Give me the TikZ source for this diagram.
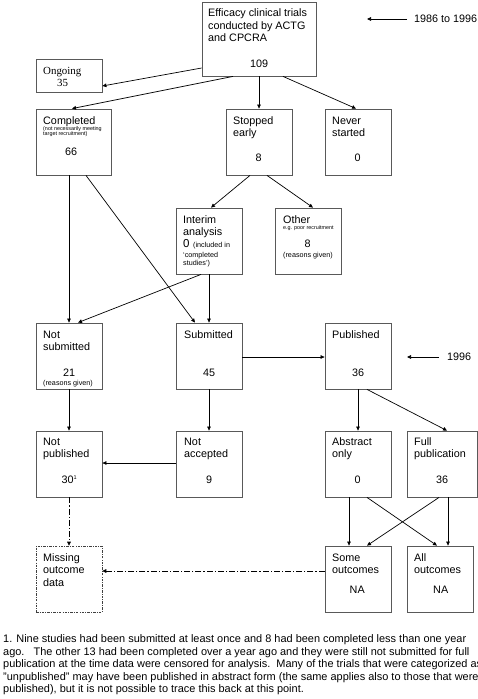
\documentclass[tikz,border=0pt]{standalone}
\usepackage{fontspec}
\setmainfont{Liberation Sans}
\newfontfamily\tnr{Liberation Serif}
\usetikzlibrary{arrows.meta}
\tikzset{
  box/.style={draw=black!65, line width=0.8pt, inner sep=0pt, fill=none},
  txt/.style={inner sep=0pt, anchor=base west, font=\fontsize{10.8}{12.5}\selectfont},
  foot/.style={inner sep=0pt, anchor=base west, font=\fontsize{10.95}{12.5}\selectfont},
  tiny/.style={inner sep=0pt, anchor=base west, font=\fontsize{5.4}{6}\selectfont},
  smalltxt/.style={inner sep=0pt, anchor=base west, font=\fontsize{7.2}{8.5}\selectfont},
  arr/.style={draw=black, line width=0.7pt, -{Triangle[length=4pt,width=3.6pt]}},
  dashdot/.style={dash pattern=on 6pt off 2pt on 1.2pt off 2pt},
}
\begin{document}
\begin{tikzpicture}[x=1pt,y=-1pt]
\useasboundingbox (0,0) rectangle (478,699);
% boxes
\node[box, minimum width=114pt, minimum height=74pt] (top) at (259,39) {};
\node[box, minimum width=66pt, minimum height=33pt] (ong) at (69,75.5) {};
\node[box, minimum width=75pt, minimum height=66pt] (comp) at (73.5,142) {};
\node[box, minimum width=66pt, minimum height=66pt] (stop) at (259,142) {};
\node[box, minimum width=66pt, minimum height=66pt] (never) at (358,142) {};
\node[box, minimum width=66pt, minimum height=66pt] (inter) at (209,241) {};
\node[box, minimum width=66pt, minimum height=66pt] (other) at (308,241) {};
\node[box, minimum width=66pt, minimum height=66pt] (notsub) at (69,356) {};
\node[box, minimum width=66pt, minimum height=66pt] (sub) at (209,356) {};
\node[box, minimum width=66pt, minimum height=66pt] (pub) at (358,356) {};
\node[box, minimum width=66pt, minimum height=66pt] (notpub) at (69,464) {};
\node[box, minimum width=66pt, minimum height=66pt] (notacc) at (209,464) {};
\node[box, minimum width=66pt, minimum height=66pt] (abs) at (358,464) {};
\node[box, minimum width=70pt, minimum height=66pt] (full) at (442,464) {};
\node[box, draw=black!75, line width=0.6pt, dash pattern=on 2.5pt off 1.2pt on 0.8pt off 1.2pt, minimum width=66pt, minimum height=66pt] (miss) at (69,579) {};
\node[box, minimum width=66pt, minimum height=66pt] (some) at (358,579) {};
\node[box, minimum width=66pt, minimum height=66pt] (all) at (440,579) {};

% texts
\node[txt] (t1a) at (208,16) {Efficacy clinical trials};
\node[txt] (t1b) at (208,29) {conducted by ACTG};
\node[txt] (t1c) at (208,41.5) {and CPCRA};
\node[txt] (t1d) at (250,67) {109};
\node[txt, font=\tnr\fontsize{10.9}{12}\selectfont] (o1) at (43,74.5) {Ongoing};
\node[txt, font=\tnr\fontsize{10.9}{12}\selectfont] (o2) at (57,86) {35};
\node[txt] (c1) at (43,124) {Completed};
\node[tiny] (c2) at (43,130) {(not necessarily meeting};
\node[tiny] (c3) at (43,135.5) {target recruitment)};
\node[txt] (c4) at (65,155) {66};
\node[txt] (s1) at (233,124) {Stopped};
\node[txt] (s2) at (233,136.5) {early};
\node[txt] (s3) at (255.5,161) {8};
\node[txt] (n1) at (332,124) {Never};
\node[txt] (n2) at (332,136.5) {started};
\node[txt] (n3) at (354.5,161) {0};
\node[txt] (i1) at (183,223) {Interim};
\node[txt] (i2) at (183,235.5) {analysis};
\node[txt, font=\fontsize{11.5}{13}\selectfont] (i3) at (183,247.5) {0};
\node[smalltxt] (i4) at (193,247) {(included in};
\node[smalltxt] (i5) at (183,257) {`completed};
\node[smalltxt] (i6) at (183,265.5) {studies')};
\node[txt] (ot1) at (283,223) {Other};
\node[tiny] (ot2) at (283,229.5) {e.g. poor recruitment};
\node[txt] (ot3) at (304.5,247.5) {8};
\node[smalltxt] (ot4) at (283,257) {(reasons given)};
\node[txt] (ns1) at (43,338) {Not};
\node[txt] (ns2) at (43,350.5) {submitted};
\node[txt] (ns3) at (63,376) {21};
\node[smalltxt] (ns4) at (43,385) {(reasons given)};
\node[txt] (sb1) at (184,338) {Submitted};
\node[txt] (sb2) at (203,376) {45};
\node[txt] (p1) at (332,338) {Published};
\node[txt] (p2) at (352,376) {36};
\node[txt] (np1) at (43,445) {Not};
\node[txt] (np2) at (43,457.5) {published};
\node[txt] (np3) at (61.5,483) {30\raisebox{3.5pt}{\fontsize{5.5}{6}\selectfont 1}};
\node[txt] (na1) at (184,445) {Not};
\node[txt] (na2) at (184,457.5) {accepted};
\node[txt] (na3) at (206,483) {9};
\node[txt] (ab1) at (332,445) {Abstract};
\node[txt] (ab2) at (332,457.5) {only};
\node[txt] (ab3) at (354.5,483) {0};
\node[txt] (fp1) at (414,445) {Full};
\node[txt] (fp2) at (414,457.5) {publication};
\node[txt] (fp3) at (436,483) {36};
\node[txt] (m1) at (43,561) {Missing};
\node[txt] (m2) at (43,573.5) {outcome};
\node[txt] (m3) at (43,586) {data};
\node[txt] (so1) at (332,561) {Some};
\node[txt] (so2) at (332,573.5) {outcomes};
\node[txt] (so3) at (349.5,593.5) {NA};
\node[txt] (al1) at (414,561) {All};
\node[txt] (al2) at (414,573.5) {outcomes};
\node[txt] (al3) at (433,593.5) {NA};

% side labels
\node[txt, anchor=west] (yr1) at (414,19) {1986 to 1996};
\coordinate (a1) at (367,19);
\node[txt, anchor=west] (yr2) at (447,357) {1996};
\coordinate (a2) at (407,357);
\draw[arr] ([xshift=-7pt]yr1.west) -- (a1);
\draw[arr] ([xshift=-8pt]yr2.west) -- (a2);

% connectors
\draw[arr] ([yshift=-29pt]top.west) -- ([yshift=-10.5pt]ong.east);
\draw[arr] ([xshift=-26pt]top.south) -- ([xshift=-1.5pt]comp.north);
\draw[arr] (top.south) -- (stop.north);
\draw[arr] ([xshift=24pt]top.south) -- ([xshift=-2pt]never.north);
\draw[arr] ([xshift=-9pt]stop.south) -- ([xshift=2pt]inter.north);
\draw[arr] ([xshift=8pt]stop.south) -- ([xshift=5pt]other.north);
\draw[arr] ([xshift=-4.5pt]comp.south) -- (notsub.north);
\draw[arr] ([xshift=12.5pt]comp.south) -- ([xshift=-14pt]sub.north);
\draw[arr] ([xshift=-8pt]inter.south) -- ([xshift=9pt]notsub.north);
\draw[arr] (inter.south) -- (sub.north);
\draw[arr] ([yshift=-1pt]sub.east) -- ([yshift=-1pt]pub.west);
\draw[arr] (notsub.south) -- (notpub.north);
\draw[arr] (sub.south) -- (notacc.north);
\draw[arr] (pub.south) -- (abs.north);
\draw[arr] ([xshift=9pt]pub.south) -- ([xshift=5pt]full.north);
\draw[arr] ([yshift=1pt]notacc.west) -- ([yshift=1pt]notpub.east);
\draw[arr, dashdot] (notpub.south) -- (miss.north);
\draw[arr, dashdot] ([yshift=8pt]some.west) -- ([yshift=8pt]miss.east);
\draw[arr] ([xshift=-9pt]abs.south) -- ([xshift=-9pt]some.north);
\draw[arr] ([xshift=9pt]abs.south) -- ([xshift=-3pt]all.north);
\draw[arr] ([xshift=-3pt]full.south) -- ([xshift=9pt]some.north);
\draw[arr] ([xshift=6pt]full.south) -- ([xshift=8pt]all.north);

% footnote
\node[foot] (f1) at (3,642.5) {1. Nine studies had been submitted at least once and 8 had been completed less than one year};
\node[foot] (f2) at (3,655) {ago.\ \ \ The other 13 had been completed over a year ago and they were still not submitted for full};
\node[foot] (f3) at (3,667.5) {publication at the time data were censored for analysis.\ \ Many of the trials that were categorized as};
\node[foot] (f4) at (3,680) {"unpublished" may have been published in abstract form (the same applies also to those that were};
\node[foot] (f5) at (3,692.5) {published), but it is not possible to trace this back at this point.};
\end{tikzpicture}
\end{document}
